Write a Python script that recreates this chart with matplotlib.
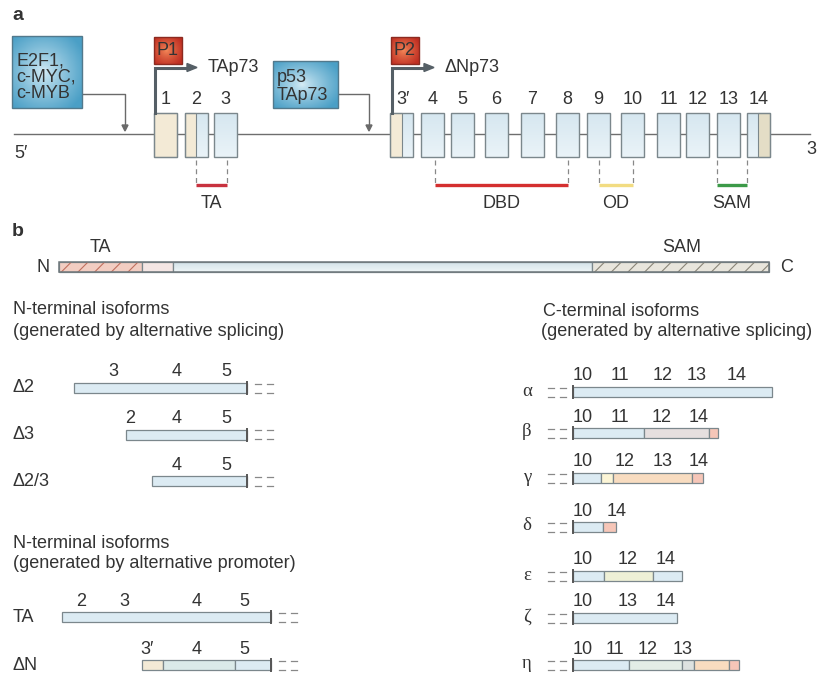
import numpy as np
import matplotlib.pyplot as plt
from matplotlib.patches import Rectangle, Polygon
from matplotlib.colors import to_rgb

# ---- panel a : gene structure ----
exon_labels = ['1', '2', '3', '3′', '4', '5', '6', '7', '8', '9', '10', '11', '12', '13', '14']
exon_start = [154, 185, 214, 390, 421, 451, 485, 521, 556, 587, 621, 657, 686, 717, 747]
exon_end = [177, 208, 237, 413, 444, 474, 508, 544, 579, 610, 644, 680, 709, 740, 770]
# untranslated (beige) part of each exon: (start, end) or None
exon_utr = [(154, 177), (185, 196), None, (390, 402), None, None, None, None,
            None, None, None, None, None, None, (758, 770)]

domain_names = ['TA', 'DBD', 'OD', 'SAM']
domain_start = [196, 435, 599, 717]
domain_end = [227, 568, 633, 747]
domain_colors = ['#c8323f', '#d42f2f', '#f2dc82', '#3c9a48']

# ---- panel b : full-length protein ----
protein_start = [59, 142, 173, 592]
protein_end = [142, 173, 592, 769]
protein_kind = ['TA', 'pink', 'body', 'SAM']

# N-terminal isoforms by alternative splicing
nsplice_labels = ['Δ2', 'Δ3', 'Δ2/3']
nsplice_start = [74, 126, 152]
nsplice_end = [247, 247, 247]
nsplice_nums = [['3', '4', '5'], ['2', '4', '5'], ['4', '5']]
nsplice_num_x = [[113, 177, 226], [130, 177, 226], [177, 226]]

# N-terminal isoforms by alternative promoter
nprom_labels = ['TA', 'ΔN']
nprom_segments = [[(62, 271, 'blue')],
                  [(142, 163, 'beige'), (163, 235, 'bluegreen'), (235, 271, 'blue')]]
nprom_nums = [['2', '3', '4', '5'], ['3′', '4', '5']]
nprom_num_x = [[81, 124, 197, 244], [147, 197, 244]]

# C-terminal isoforms
cterm_labels = ['α', 'β', 'γ', 'δ', 'ε', 'ζ', 'η']
cterm_segments = [
    [(573, 772, 'blue')],
    [(573, 644, 'blue'), (644, 709, 'greypink'), (709, 718, 'salmon')],
    [(573, 601, 'blue'), (601, 613, 'paleyellow'), (613, 692, 'peach'), (692, 703, 'salmon')],
    [(573, 603, 'blue'), (603, 616, 'salmon')],
    [(573, 604, 'blue'), (604, 653, 'yellowgreen'), (653, 682, 'blue')],
    [(573, 677, 'blue')],
    [(573, 629, 'blue'), (629, 682, 'greengrey'), (682, 694, 'grey'), (694, 729, 'peach'), (729, 739, 'salmon')],
]
cterm_nums = [['10', '11', '12', '13', '14'], ['10', '11', '12', '14'], ['10', '12', '13', '14'],
              ['10', '14'], ['10', '12', '14'], ['10', '13', '14'], ['10', '11', '12', '13']]
cterm_num_x = [[583, 620, 663, 697, 737], [583, 620, 662, 699], [583, 625, 663, 699],
               [583, 617], [583, 628, 666], [583, 628, 666], [583, 615, 648, 683]]

seg_colors = {
    'blue': '#dcebf3', 'beige': '#f3ead6', 'bluegreen': '#dbeae9', 'greypink': '#e6dfdf',
    'salmon': '#f6c6b8', 'paleyellow': '#fcf5d6', 'peach': '#f8dcc0', 'yellowgreen': '#eef0d6',
    'greengrey': '#e3ede6', 'grey': '#dde2e0',
}

TXT = '#333333'
EDGE = '#7b878c'
SANS = ['Liberation Sans', 'DejaVu Sans']
SERIF = ['Liberation Serif', 'DejaVu Serif']
FS = 13
plt.rcParams['hatch.linewidth'] = 0.8


def gradient_box(ax, x0, y0, w, h, outer, inner, edge):
    ny, nx = 60, 60
    yy, xx = np.mgrid[0:1:ny * 1j, 0:1:nx * 1j]
    d = np.sqrt(((xx - 0.45) / 0.65) ** 2 + ((yy - 0.5) / 0.65) ** 2)
    d = np.clip(d, 0, 1)[..., None] ** 0.8
    img = np.array(to_rgb(inner)) * (1 - d) + np.array(to_rgb(outer)) * d
    im = ax.imshow(img, extent=(x0, x0 + w, y0 + h, y0), origin='upper', aspect='auto', zorder=2)
    rect = Rectangle((x0, y0), w, h, fill=False, edgecolor=edge, lw=1, zorder=3)
    ax.add_patch(rect)
    im.set_clip_path(rect)


def vgrad(ax, x0, y0, w, h, top, bottom, z=2):
    # soft vertical shading used for exons and the protein bar
    t = np.linspace(0, 1, 30)[:, None, None]
    img = np.array(to_rgb(top)) * (1 - t) + np.array(to_rgb(bottom)) * t
    ax.imshow(img, extent=(x0, x0 + w, y0 + h, y0), origin='upper', aspect='auto', zorder=z)


def txt(ax, x, y, s, size=FS, ha='center', family=SANS, **kw):
    ax.text(x, y, s, ha=ha, va='center', fontsize=size, color=TXT, family=family, **kw)


def dashes(ax, x, y0, y1):
    # the two short dashed lines that show the chain continues
    for yy in (y0, y1):
        ax.plot([x, x + 6], [yy, yy], color='#888888', lw=0.9, zorder=3)
        ax.plot([x + 12, x + 18], [yy, yy], color='#888888', lw=0.9, zorder=3)


def isoform(ax, y, segments, nums, num_x, dash_x, tick_x):
    h = 10
    for x0, x1, c in segments:
        ax.add_patch(Rectangle((x0, y), x1 - x0, h, facecolor=seg_colors[c],
                               edgecolor=EDGE, lw=0.9, zorder=2))
    ax.plot([tick_x, tick_x], [y - 1, y + h + 1], color='#555555', lw=1.4, zorder=3)
    dashes(ax, dash_x, y + 0.5, y + h - 0.5)
    for s, x in zip(nums, num_x):
        txt(ax, x, y - 11, s)


fig = plt.figure(figsize=(8.17, 6.73), dpi=100)
ax = fig.add_axes([0, 0, 1, 1])

# ---------------- panel a ----------------
txt(ax, 12, 15, 'a', size=14, ha='left', fontweight='bold')
ax.plot([14, 810], [134, 134], color='#6e6e6e', lw=1, zorder=1)
txt(ax, 14, 153, '5′', ha='left')
txt(ax, 806, 149, '3', ha='left')

for lab, x0, x1, utr in zip(exon_labels, exon_start, exon_end, exon_utr):
    vgrad(ax, x0, 113, x1 - x0, 44, '#d6e7f0', '#eaf3f8')
    if utr is not None:
        c = '#e4ddc6' if utr[0] > 700 else '#f3ead6'
        ax.add_patch(Rectangle((utr[0], 113), utr[1] - utr[0], 44, facecolor=c, edgecolor=EDGE, lw=0.8, zorder=2))
    ax.add_patch(Rectangle((x0, 113), x1 - x0, 44, fill=False, edgecolor=EDGE, lw=1, zorder=3))
    txt(ax, (x0 + x1) / 2 + (2 if lab == '3′' else 0), 100, lab)

for name, x0, x1, c in zip(domain_names, domain_start, domain_end, domain_colors):
    for xx in (x0, x1):
        ax.plot([xx, xx], [160, 184], color='#888888', lw=0.9, ls=(0, (4, 3)), zorder=1)
    ax.plot([x0, x1], [185, 185], color=c, lw=2.4, solid_capstyle='butt', zorder=2)
    txt(ax, (x0 + x1) / 2, 204, name)

# transcription factor boxes and arrows
gradient_box(ax, 12, 36, 70, 72, '#4a9fc6', '#d9eef7', '#52798c')
for i, s in enumerate(['E2F1,', 'c-MYC,', 'c-MYB']):
    txt(ax, 16, 61 + 16.5 * i, s, ha='left', zorder=4)
ax.plot([82, 125, 125], [94, 94, 126], color='#6a6a6a', lw=1, zorder=1)
ax.add_patch(Polygon([[122, 125], [128, 125], [125, 131]], closed=True, color='#6a6a6a', zorder=1))

gradient_box(ax, 273, 61, 65, 47, '#4a9fc6', '#d9eef7', '#52798c')
txt(ax, 277, 77, 'p53', ha='left', zorder=4)
txt(ax, 277, 95, 'TAp73', ha='left', zorder=4)
ax.plot([338, 369, 369], [94, 94, 126], color='#6a6a6a', lw=1, zorder=1)
ax.add_patch(Polygon([[366, 125], [372, 125], [369, 131]], closed=True, color='#6a6a6a', zorder=1))

# promoters
for px, lab, tx, tlab in [(154, 'P1', 155, 'TAp73'), (391, 'P2', 392, 'ΔNp73')]:
    gradient_box(ax, px, 37, 28, 27, '#bf2e22', '#f58a5a', '#8c2a20')
    txt(ax, px + 14, 50.5, lab, zorder=4)
    ax.plot([tx, tx, tx + 34], [113, 67.5, 67.5], color='#555f66', lw=2.2, zorder=3,
            solid_joinstyle='miter')
    ax.add_patch(Polygon([[tx + 32, 63.5], [tx + 42, 67.5], [tx + 32, 71.5]], closed=True,
                         color='#555f66', zorder=3))
    txt(ax, tx + 53, 68, tlab, ha='left')

# ---------------- panel b ----------------
txt(ax, 12, 231, 'b', size=14, ha='left', fontweight='bold')
txt(ax, 43, 268, 'N')
txt(ax, 787, 268, 'C')
txt(ax, 100, 247, 'TA')
txt(ax, 682, 247, 'SAM')
for x0, x1, kind in zip(protein_start, protein_end, protein_kind):
    if kind == 'body':
        vgrad(ax, x0, 262, x1 - x0, 10, '#d3e2e8', '#eef5f7')
        ax.add_patch(Rectangle((x0, 262), x1 - x0, 10, fill=False, edgecolor=EDGE, lw=0.9, zorder=2))
        continue
    face = {'TA': '#f2cdc2', 'pink': '#f4e6e4', 'SAM': '#e8e5dc'}[kind]
    ax.add_patch(Rectangle((x0, 262), x1 - x0, 10, facecolor=face, edgecolor=EDGE, lw=0.9, zorder=2))
    if kind in ('TA', 'SAM'):
        hc = '#c0705f' if kind == 'TA' else '#8a8578'
        ax.add_patch(Rectangle((x0, 262), x1 - x0, 10, fill=False, hatch='//',
                               edgecolor=hc, lw=0, zorder=3))
ax.add_patch(Rectangle((59, 262), 710, 10, fill=False, edgecolor='#6f787c', lw=1.1, zorder=4))

# titles
txt(ax, 13, 309, 'N-terminal isoforms', ha='left')
txt(ax, 13, 331, '(generated by alternative splicing)', ha='left')
txt(ax, 543, 311, 'C-terminal isoforms', ha='left')
txt(ax, 541, 332, '(generated by alternative splicing)', ha='left')
txt(ax, 13, 543, 'N-terminal isoforms', ha='left')
txt(ax, 13, 563, '(generated by alternative promoter)', ha='left')

# N-terminal splice isoforms
for i, lab in enumerate(nsplice_labels):
    y = 383 + 46.5 * i
    txt(ax, 13, y + 5, lab, ha='left')
    isoform(ax, y, [(nsplice_start[i], nsplice_end[i], 'blue')], nsplice_nums[i],
            nsplice_num_x[i], 255, nsplice_end[i])

# N-terminal promoter isoforms
for i, lab in enumerate(nprom_labels):
    y = 612 + 48 * i
    txt(ax, 13, y + 5, lab, ha='left')
    isoform(ax, y, nprom_segments[i], nprom_nums[i], nprom_num_x[i], 279, 271)

# C-terminal isoforms
cterm_y = [387, 428, 473, 522, 571, 613, 660]
for lab, y, segs, nums, nx in zip(cterm_labels, cterm_y, cterm_segments, cterm_nums, cterm_num_x):
    txt(ax, 527, y + 4, lab, size=13.5, family=SERIF)
    isoform(ax, y, segs, nums, nx, 548, 573)

ax.set_xlim(0, 817)
ax.set_ylim(673, 0)
ax.axis('off')
fig.savefig('out.png', dpi=100)
